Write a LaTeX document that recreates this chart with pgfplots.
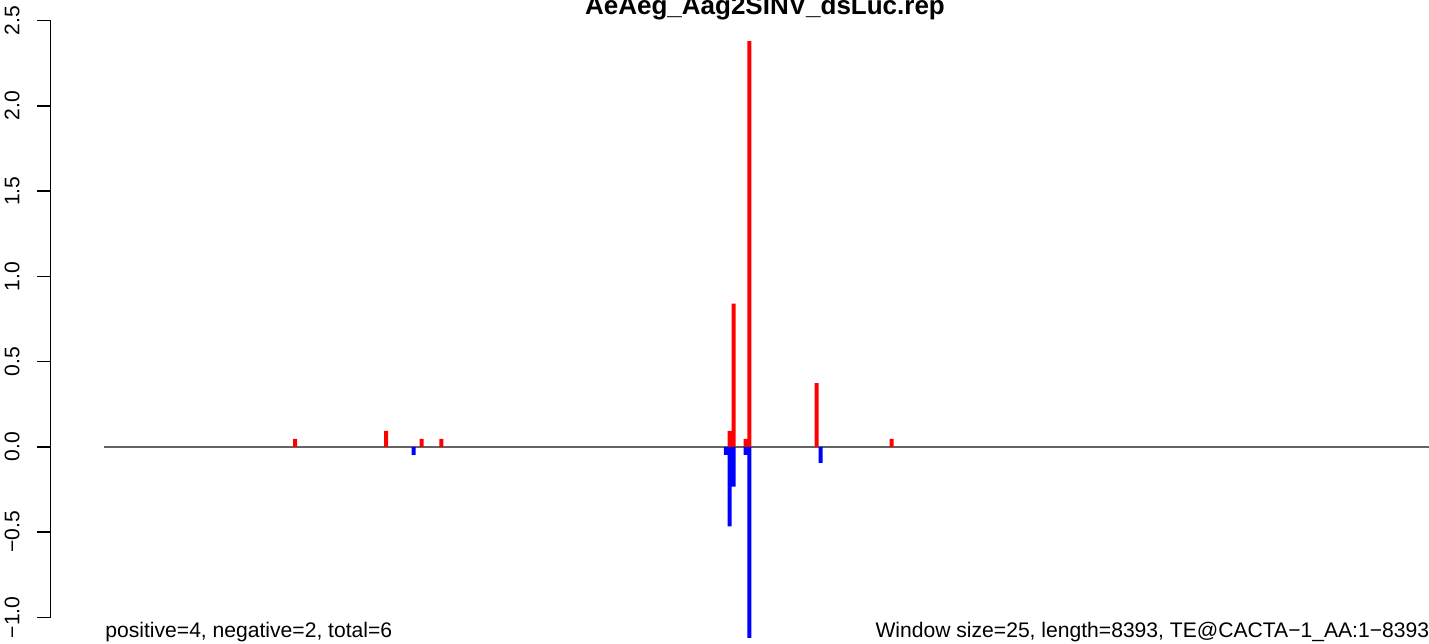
\documentclass[border=0pt]{standalone}
\usepackage{fontspec}
\setmainfont{Liberation Sans}
\usepackage{pgfplots}
\pgfplotsset{compat=1.18}
\definecolor{rred}{RGB}{255,0,0}
\definecolor{rblue}{RGB}{0,0,255}
\definecolor{zline}{RGB}{100,100,100}
\begin{document}
\begin{tikzpicture}
\path[use as bounding box] (0pt,0pt) rectangle (714.5pt,321.5pt);
\clip (0pt,0pt) rectangle (714.5pt,321.5pt);
\begin{axis}[
  at={(25.35pt,12.85pt)}, anchor=south west,
  scale only axis, width=716pt, height=298.3pt,
  xmin=-334.68, xmax=8727.68, ymin=-1, ymax=2.5,
  clip=false,
  axis x line=none, axis y line=left,
  y axis line style={-, line width=0.66pt, black},
  ytick={-1,-0.5,0,0.5,1,1.5,2,2.5},
  yticklabels={−1.0,−0.5,0.0,0.5,1.0,1.5,2.0,2.5},
  tick align=outside, major tick length=6.85pt,
  ytick style={line width=0.66pt, black},
  yticklabel style={font=\fontsize{10.55}{12}\selectfont, rotate=90, anchor=south, inner sep=0pt},
  yticklabel shift=8.5pt,
]
\addplot[zline, line width=0.66pt] coordinates {(1,0) (8393,0)};
\addplot[ybar, bar width=2pt, bar shift=0pt, fill=rred, draw=none] coordinates {
(1212.5,0.047) (1787.5,0.094) (2012.5,0.047) (2137.5,0.047)
(3962.5,0.094) (3987.5,0.84) (4062.5,0.047) (4087.5,2.38)
(4512.5,0.374) (4987.5,0.047)};
\addplot[ybar, bar width=2pt, bar shift=0pt, fill=rblue, draw=none] coordinates {
(1962.5,-0.047) (3937.5,-0.047) (3962.5,-0.467) (3987.5,-0.233)
(4062.5,-0.047) (4087.5,-1.12) (4537.5,-0.094)};
\end{axis}
\node[anchor=base, inner sep=0pt, font=\bfseries\fontsize{13}{15}\selectfont] at (382.5pt,314pt) {AeAeg\_Aag2SINV\_dsLuc.rep};
\node[anchor=base west, inner sep=0pt, font=\fontsize{10.55}{12}\selectfont] at (52.5pt,3pt) {positive=4, negative=2, total=6};
\node[anchor=base east, inner sep=0pt, font=\fontsize{10.55}{12}\selectfont] at (714.75pt,3pt) {Window size=25, length=8393, TE@CACTA−1\_AA:1−8393};
\end{tikzpicture}
\end{document}
